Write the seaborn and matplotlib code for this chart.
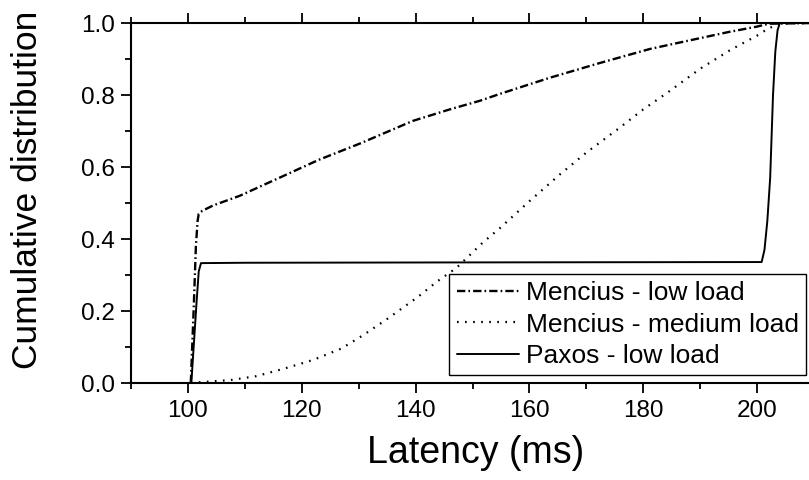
import matplotlib
matplotlib.use("Agg")
import matplotlib.pyplot as plt
from matplotlib.ticker import MultipleLocator
import seaborn as sns
import pandas as pd

# ---- data ----
labels = ["Mencius - low load", "Mencius - medium load", "Paxos - low load"]

lat_low = [100.5, 101.0, 101.4, 101.7, 101.9, 102.5, 104.4, 109.1, 116.2, 123.0,
           130.2, 139.5, 146.0, 151.3, 154.8, 163.6, 172.4, 181.2, 190.0, 195.0,
           200.0, 202.0, 210.0]
cdf_low = [0.0, 0.2, 0.38, 0.45, 0.47, 0.478, 0.493, 0.52, 0.571, 0.62,
           0.665, 0.728, 0.76, 0.784, 0.803, 0.848, 0.889, 0.928, 0.958, 0.975,
           0.99, 0.998, 1.0]

lat_med = [100.5, 102.0, 107.4, 112.0, 116.7, 122.0, 127.0, 130.8, 135.2, 140.4,
           143.7, 147.2, 151.8, 154.8, 160.0, 165.4, 170.0, 175.6, 180.0, 184.2,
           190.0, 195.3, 200.0, 202.0, 204.0, 210.0]
cdf_med = [0.0, 0.002, 0.008, 0.019, 0.039, 0.064, 0.096, 0.133, 0.18, 0.239,
           0.281, 0.32, 0.39, 0.43, 0.505, 0.58, 0.64, 0.706, 0.76, 0.806,
           0.873, 0.925, 0.965, 0.985, 0.998, 1.0]

lat_paxos = [100.6, 101.5, 101.9, 102.3, 110.0, 150.0, 200.8, 201.3, 201.8, 202.3,
             202.8, 203.2, 203.6, 204.0, 210.0]
cdf_paxos = [0.0, 0.22, 0.31, 0.333, 0.334, 0.335, 0.336, 0.37, 0.45, 0.57,
             0.80, 0.92, 0.98, 1.0, 1.0]

x_ticks = [100, 120, 140, 160, 180, 200]
y_ticks = [0.0, 0.2, 0.4, 0.6, 0.8, 1.0]

# ---- style ----
sns.set_style("ticks")
plt.rcParams["font.family"] = ["Liberation Sans", "DejaVu Sans"]
plt.rcParams["lines.scale_dashes"] = False
for k in ["text.color", "axes.labelcolor", "xtick.color", "ytick.color", "axes.edgecolor"]:
    plt.rcParams[k] = "black"

fig = plt.figure(figsize=(8.09, 4.8), dpi=100)
ax = fig.add_axes([131 / 809, 1 - 383 / 480, (814 - 131) / 809, 360 / 480])

series = [
    (lat_low, cdf_low, labels[0], (6.0, 2.2, 1.2, 2.2), 1.7),
    (lat_med, cdf_med, labels[1], (1.2, 4.6), 1.6),
    (lat_paxos, cdf_paxos, labels[2], None, 1.4),
]
for xs, ys, lab, dash, lw in series:
    df = pd.DataFrame({"lat": xs, "cdf": ys})
    sns.lineplot(data=df, x="lat", y="cdf", ax=ax, color="black", linewidth=lw,
                 estimator=None, sort=False, label=lab)
    ln = ax.lines[-1]
    if dash is not None:
        ln.set_dashes(dash)

ax.set_xlim(90, 210)
ax.set_ylim(0, 1.0)
ax.set_xticks(x_ticks)
ax.set_yticks(y_ticks)
ax.set_yticklabels([f"{v:.1f}" for v in y_ticks])
ax.xaxis.set_minor_locator(MultipleLocator(10))
ax.yaxis.set_minor_locator(MultipleLocator(0.1))

for sp in ["left", "bottom", "top"]:
    ax.spines[sp].set_visible(True)
    ax.spines[sp].set_linewidth(1.5)
    ax.spines[sp].set_color("black")
ax.spines["right"].set_visible(False)

ax.tick_params(which="both", direction="out", top=True, labeltop=False,
               right=False, width=1.3, color="black", labelcolor="black",
               labelsize=17.5)
ax.tick_params(axis="x", which="major", length=7, pad=5.5)
ax.tick_params(axis="y", which="major", length=7, pad=4.5)
ax.tick_params(which="minor", length=4)

ax.set_xlabel("Latency (ms)", fontsize=27)
ax.set_ylabel("Cumulative distribution", fontsize=25.5)
ax.xaxis.set_label_coords(0.504, -0.145)
ax.yaxis.set_label_coords(-0.127, 0.536)

leg = ax.legend(loc="lower right", bbox_to_anchor=(0.988, 0.022), fontsize=19,
                frameon=True, fancybox=False, shadow=False, framealpha=1,
                edgecolor="black", handlelength=2.35, handletextpad=0.27,
                labelspacing=0.28, borderpad=0.27, borderaxespad=0.0)
leg.get_frame().set_linewidth(1.0)

fig.savefig("out.png", dpi=100)
